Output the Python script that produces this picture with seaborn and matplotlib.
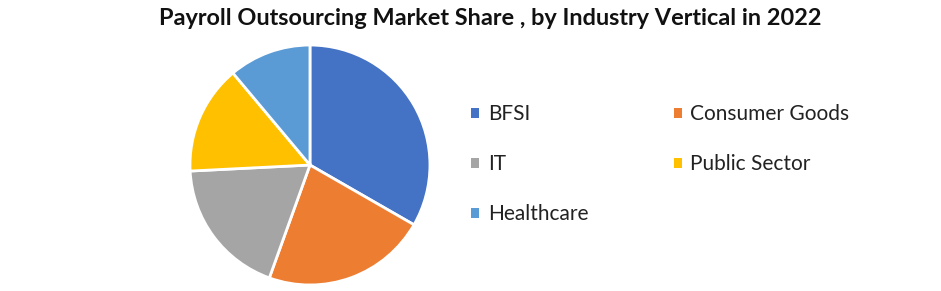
import matplotlib
matplotlib.use("Agg")
import matplotlib.pyplot as plt
from matplotlib.patches import Patch
import seaborn as sns

categories = ["BFSI", "Consumer Goods", "IT", "Public Sector", "Healthcare"]
shares = [33.3, 22.2, 18.7, 14.7, 11.1]
colors = ["#4472C4", "#ED7D31", "#A5A5A5", "#FFC000", "#5B9BD5"]
title = "Payroll Outsourcing Market Share , by Industry Vertical in 2022"

sns.set_theme(style="white")
plt.rcParams["font.family"] = ["Lato", "DejaVu Sans"]

fig = plt.figure(figsize=(9.41, 2.91), dpi=100)
ax = fig.add_axes([0.2019, 0.0206, 0.255, 0.8247])
ax.pie(shares, colors=colors, startangle=90, counterclock=False,
       wedgeprops=dict(edgecolor="white", linewidth=2))
ax.set_aspect("equal")
ax.set_xlim(-1.0, 1.0)
ax.set_ylim(-1.0, 1.0)

fig.text(0.521, 0.936, title, ha="center", va="center", fontsize=16.9,
         fontweight="bold", color="#111111")

order = [0, 2, 4, 1, 3]
handles = [Patch(facecolor=colors[i], edgecolor="none") for i in order]
labels = [categories[i] for i in order]
fig.legend(handles, labels, ncol=2, loc="upper left",
           bbox_to_anchor=(0.4806, 0.706), frameon=False, fontsize=15,
           handlelength=0.4, handleheight=0.4, handletextpad=0.4,
           labelspacing=1.44, columnspacing=4.1, labelcolor="#222222")

fig.savefig("out.png", dpi=100)
